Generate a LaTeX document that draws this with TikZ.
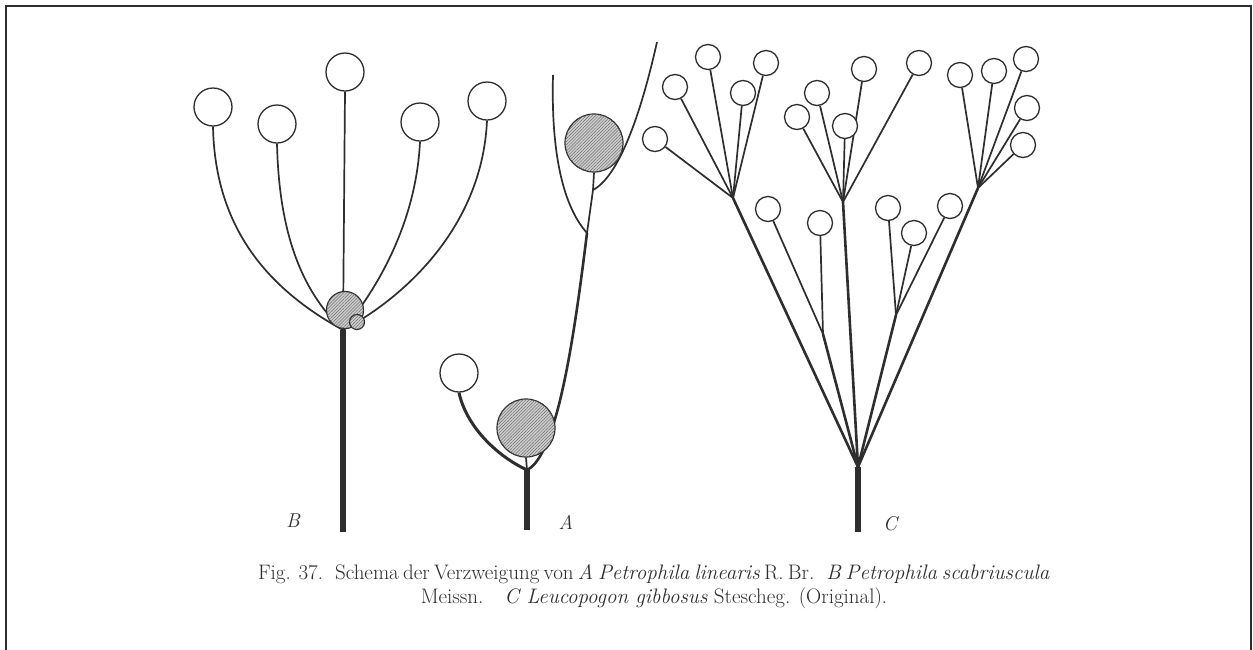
\documentclass[tikz,border=0pt]{standalone}
\usetikzlibrary{patterns.meta}
\pgfdeclarelayer{back}
\pgfdeclarelayer{bg}
\pgfsetlayers{back,bg,main}
\definecolor{inkc}{HTML}{2E2E2E}
\definecolor{hatchfill}{HTML}{CFCFCF}
\begin{document}
\begin{tikzpicture}[x=1pt,y=-1pt,
  bud/.style={circle,draw=inkc,fill=white,line width=1.3pt,inner sep=0pt,minimum size=#1},
  hatched/.style={circle,draw=inkc,fill=hatchfill,line width=1.2pt,inner sep=0pt,minimum size=#1,
    postaction={pattern={Lines[angle=45,distance=2.2pt,line width=0.45pt]},pattern color=black!60}},
  thinline/.style={draw=inkc,line width=1.7pt},
  midline/.style={draw=inkc,line width=2.6pt},
  stemline/.style={draw=inkc,line width=5.5pt},
  lab/.style={font=\fontsize{20}{20}\selectfont\itshape,text=inkc,inner sep=0pt},
  capline/.style={font=\fontsize{21}{24}\selectfont,text=inkc,inner sep=0pt,anchor=base}]

\useasboundingbox (0,0) rectangle (1253,649);
\begin{pgfonlayer}{back}
  \fill[white] (0,0) rectangle (1253,649);
  \begin{scope}
    \clip (0,0) rectangle (1253,649);
    \draw[inkc,line width=2.3pt] (6.2,6.2) rectangle (1250.8,700);
  \end{scope}
\end{pgfonlayer}

% ---------- B : Petrophila scabriuscula ----------
\node[bud=38] (b1) at (213,107) {};
\node[bud=38] (b2) at (277,124) {};
\node[bud=38] (b3) at (345,72) {};
\node[bud=38] (b4) at (420,122) {};
\node[bud=38] (b5) at (487,101) {};
\coordinate (jB) at (343,330);
\coordinate (baseB) at (343,532);
\begin{pgfonlayer}{bg}
  \draw[thinline] (b1.south) .. controls (215,230) and (270,290) .. (jB);
  \draw[thinline] (b2.south) .. controls (279,230) and (300,290) .. (jB);
  \draw[thinline] (b3.south) -- (jB);
  \draw[thinline] (b4.south) .. controls (416,225) and (375,292) .. (jB);
  \draw[thinline] (b5.south) .. controls (482,230) and (400,300) .. (jB);
  \draw[stemline] (baseB) -- (jB);
\end{pgfonlayer}
\node[hatched=37] (hB) at (345,310) {};
\node[hatched=15] (hB2) at (357,322) {};
\node[lab] (labB) at (293,521) {B};

% ---------- A : Petrophila linearis ----------
\node[bud=38] (a1) at (459,373) {};
\node[hatched=58] (hA1) at (526,428) {};
\node[hatched=58] (hA2) at (594,143) {};
\coordinate (baseA) at (527,530);
\coordinate (jA1) at (527,470);
\coordinate (jA2) at (587,233);
\coordinate (jA3) at (593,190);
\coordinate (tipA1) at (553,75);
\coordinate (tipA2) at (657,42);
\begin{pgfonlayer}{bg}
  \draw[stemline] (baseA) -- (jA1);
  \draw[draw=inkc,line width=3pt] (jA1) .. controls (495,455) and (466,425) .. (a1.south);
  \draw[midline] (jA1) .. controls (558,455) and (575,330) .. (jA2);
  \draw[thinline] (jA1) -- (hA1.south);
  \draw[thinline] (jA2) .. controls (562,205) and (551,150) .. (tipA1);
  \draw[thinline] (jA2) -- (jA3);
  \draw[thinline] (jA3) -- (hA2.south);
  \draw[thinline] (jA3) .. controls (612,180) and (635,140) .. (tipA2);
\end{pgfonlayer}
\node[lab] (labA) at (566,522) {A};

% ---------- C : Leucopogon gibbosus ----------
\coordinate (baseC) at (858,532);
\coordinate (jC0) at (858,467);
\coordinate (jCL) at (733,198);
\coordinate (jCM) at (843,202);
\coordinate (jCR) at (978,188);
\coordinate (jCs) at (823,334);
\coordinate (jCR2) at (896,315);
% left umbel
\node[bud=25] (cl1) at (655,139) {};
\node[bud=25] (cl2) at (675,87) {};
\node[bud=25] (cl3) at (708,57) {};
\node[bud=25] (cl4) at (743,93) {};
\node[bud=25] (cl5) at (766,63) {};
% middle umbel
\node[bud=25] (cm1) at (797,117) {};
\node[bud=25] (cm2) at (817,93) {};
\node[bud=25] (cm3) at (845,126) {};
\node[bud=25] (cm4) at (864,69) {};
\node[bud=25] (cm5) at (919,63) {};
% right umbel
\node[bud=25] (cr1) at (960,75) {};
\node[bud=25] (cr2) at (994,71) {};
\node[bud=25] (cr3) at (1026,59) {};
\node[bud=25] (cr4) at (1027,108) {};
\node[bud=25] (cr5) at (1023,145) {};
% lower single flowers
\node[bud=25] (cs1) at (768,209) {};
\node[bud=25] (cs2) at (820,223) {};
\node[bud=25] (cq1) at (888,208) {};
\node[bud=25] (cq2) at (914,233) {};
\node[bud=25] (cq3) at (950,206) {};
\begin{pgfonlayer}{bg}
  \draw[stemline] (baseC) -- (jC0);
  \foreach \t in {jCL,jCM,jCR,jCs,jCR2} \draw[midline] (jC0) -- (\t);
  \draw[thinline] (jCs) -- (cs1);
  \draw[thinline] (jCs) -- (cs2);
  \foreach \t in {cq1,cq2,cq3} \draw[thinline] (jCR2) -- (\t);
  \foreach \t in {cl1,cl2,cl3,cl4,cl5} \draw[thinline] (jCL) -- (\t);
  \foreach \t in {cm1,cm2,cm3,cm4,cm5} \draw[thinline] (jCM) -- (\t);
  \foreach \t in {cr1,cr2,cr3,cr4,cr5} \draw[thinline] (jCR) -- (\t);
\end{pgfonlayer}
\node[lab] (labC) at (890,524) {C};

% ---------- caption ----------
\node[capline] (cap1) at (644,579) {\makebox[772pt][s]{Fig. 37. \ Schema der Verzweigung von \textit{A Petrophila linearis} R. Br. \ \textit{B Petrophila scabriuscula}}};
\node[capline] (cap2) at (654,603) {Meissn.\quad \textit{C Leucopogon gibbosus} Stescheg. (Original).};
\end{tikzpicture}
\end{document}
